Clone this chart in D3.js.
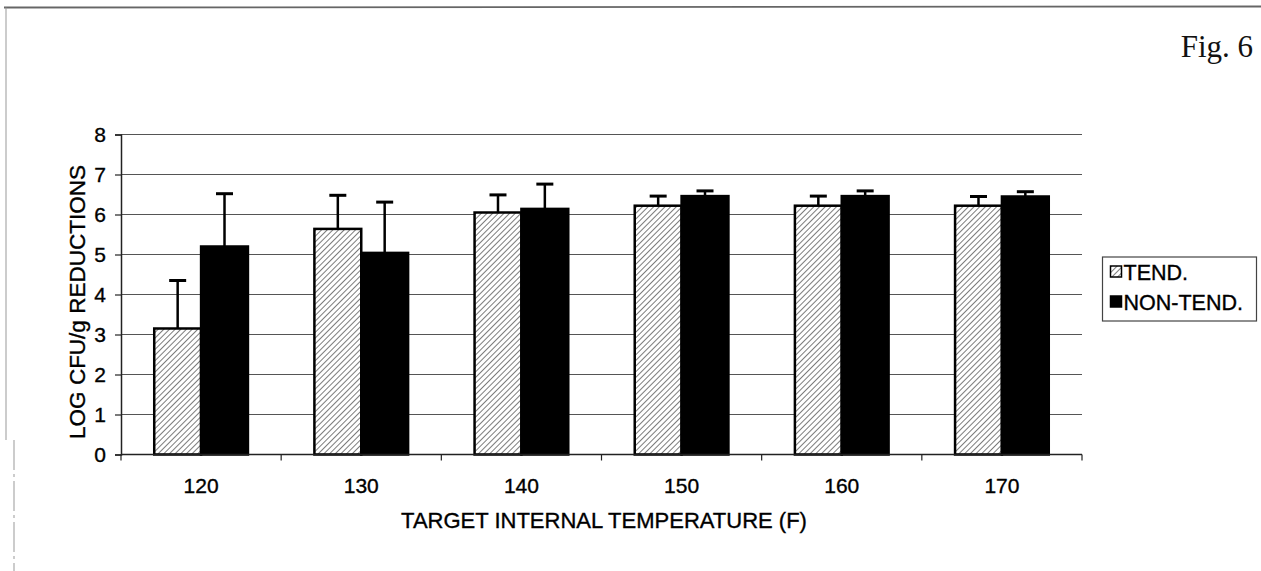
<!DOCTYPE html>
<html>
<head>
<meta charset="utf-8">
<script src="https://cdn.jsdelivr.net/npm/d3@7/dist/d3.min.js"></script>
<style>
  html, body { margin: 0; padding: 0; background: #fff; }
  svg { display: block; }
  .lbl { fill: #000; stroke: #000; stroke-width: 0.35px; }
</style>
</head>
<body>
<script>
// data
const categories = ["120", "130", "140", "150", "160", "170"];
const seriesNames = ["TEND.", "NON-TEND."];
const tendMeans = [3.15, 5.64, 6.05, 6.22, 6.22, 6.22];
const tendErrors = [1.20, 0.84, 0.44, 0.24, 0.24, 0.23];
const nonTendMeans = [5.20, 5.04, 6.14, 6.46, 6.46, 6.45];
const nonTendErrors = [1.32, 1.27, 0.62, 0.13, 0.13, 0.12];
const yTicks = [0, 1, 2, 3, 4, 5, 6, 7, 8];

const width = 1261, height = 571;
const margin = {top: 134.5, right: 179, bottom: 116.5, left: 121};

const svg = d3.select("body").append("svg")
    .attr("width", width)
    .attr("height", height)
    .attr("font-family", "'Liberation Sans', Arial, sans-serif");

// hatch pattern for the TEND. bars
const defs = svg.append("defs");
const hatch = defs.append("pattern")
    .attr("id", "hatch")
    .attr("patternUnits", "userSpaceOnUse")
    .attr("width", 4)
    .attr("height", 4)
    .attr("patternTransform", "rotate(45)");
hatch.append("rect").attr("width", 4).attr("height", 4).attr("fill", "#fff");
hatch.append("line")
    .attr("x1", 0).attr("y1", 0).attr("x2", 0).attr("y2", 4)
    .attr("stroke", "#444").attr("stroke-width", 1.4);

// scanned page frame
svg.append("line")
    .attr("x1", 4).attr("y1", 7.5).attr("x2", width).attr("y2", 6.5)
    .attr("stroke", "#666").attr("stroke-width", 1.8);
svg.append("line")
    .attr("x1", 6).attr("y1", 7.5).attr("x2", 6).attr("y2", 440)
    .attr("stroke", "#999").attr("stroke-width", 1);
svg.append("line")
    .attr("x1", 14).attr("y1", 440).attr("x2", 14).attr("y2", height)
    .attr("stroke", "#999").attr("stroke-width", 1)
    .attr("stroke-dasharray", "30,4,3,4");

svg.append("text")
    .attr("x", 1253)
    .attr("y", 57)
    .attr("text-anchor", "end")
    .attr("font-family", "'Liberation Serif', 'Times New Roman', serif")
    .attr("font-size", 31)
    .attr("fill", "#111")
    .text("Fig. 6");

const innerW = width - margin.left - margin.right;
const innerH = height - margin.top - margin.bottom;

const g = svg.append("g").attr("transform", `translate(${margin.left},${margin.top})`);

const x0 = d3.scaleBand().domain(categories).range([0, innerW]).padding(0);
const groupW = x0.bandwidth() * 0.585;
const x1 = d3.scaleBand().domain(seriesNames).range([0, groupW]).padding(0);
const y = d3.scaleLinear().domain([0, 8]).range([innerH, 0]);

// gridlines
g.append("g")
  .selectAll("line")
  .data(yTicks.filter(t => t > 0))
  .join("line")
    .attr("x1", 0).attr("x2", innerW)
    .attr("y1", d => y(d)).attr("y2", d => y(d))
    .attr("stroke", "#555").attr("stroke-width", 1);

const rows = categories.map((c, i) => ({
  cat: c,
  values: [
    {name: seriesNames[0], mean: tendMeans[i], err: tendErrors[i]},
    {name: seriesNames[1], mean: nonTendMeans[i], err: nonTendErrors[i]}
  ]
}));

const groups = g.append("g")
  .selectAll("g")
  .data(rows)
  .join("g")
    .attr("transform", d => `translate(${x0(d.cat) + (x0.bandwidth() - groupW) / 2},0)`);

// error bars (upper only), drawn behind bars
groups.selectAll(".err")
  .data(d => d.values)
  .join("g")
    .attr("class", "err")
    .each(function(d) {
      const cx = x1(d.name) + x1.bandwidth() / 2;
      const sel = d3.select(this);
      sel.append("line")
          .attr("x1", cx).attr("x2", cx)
          .attr("y1", y(d.mean)).attr("y2", y(d.mean + d.err))
          .attr("stroke", "#000").attr("stroke-width", 2.5);
      sel.append("line")
          .attr("x1", cx - 8.5).attr("x2", cx + 8.5)
          .attr("y1", y(d.mean + d.err)).attr("y2", y(d.mean + d.err))
          .attr("stroke", "#000").attr("stroke-width", 3);
    });

groups.selectAll("rect")
  .data(d => d.values)
  .join("rect")
    .attr("x", d => x1(d.name))
    .attr("width", x1.bandwidth())
    .attr("y", d => y(d.mean))
    .attr("height", d => y(0) - y(d.mean))
    .attr("fill", d => d.name === seriesNames[0] ? "url(#hatch)" : "#000")
    .attr("stroke", "#000")
    .attr("stroke-width", 2.5);

// y axis
const yAxis = g.append("g")
    .call(d3.axisLeft(y).tickValues(yTicks).tickSize(6).tickPadding(9).tickFormat(d3.format("d")));
yAxis.select(".domain").attr("stroke", "#222").attr("stroke-width", 1.5);
yAxis.selectAll(".tick line").attr("stroke", "#222").attr("stroke-width", 1.2);
yAxis.selectAll(".tick text")
    .attr("class", "lbl")
    .attr("font-size", 21)
    .attr("font-family", "'Liberation Sans', Arial, sans-serif");

// x axis with ticks between categories
const xAxisG = g.append("g").attr("transform", `translate(0,${innerH})`);
xAxisG.append("line")
    .attr("x1", 0).attr("x2", innerW)
    .attr("stroke", "#222").attr("stroke-width", 1.5);
xAxisG.selectAll(".sep")
  .data(categories.concat(["end"]))
  .join("line")
    .attr("class", "sep")
    .attr("x1", (d, i) => i * x0.step()).attr("x2", (d, i) => i * x0.step())
    .attr("y1", 0).attr("y2", 6)
    .attr("stroke", "#222").attr("stroke-width", 1.2);
xAxisG.selectAll(".xl")
  .data(categories)
  .join("text")
    .attr("class", "xl lbl")
    .attr("x", d => x0(d) + x0.bandwidth() / 2)
    .attr("y", 38)
    .attr("text-anchor", "middle")
    .attr("font-size", 21)
    .text(d => d);

svg.append("text")
    .attr("class", "lbl")
    .attr("x", 604)
    .attr("y", 527.5)
    .attr("text-anchor", "middle")
    .attr("font-size", 22)
    .text("TARGET INTERNAL TEMPERATURE (F)");

svg.append("text")
    .attr("class", "lbl")
    .attr("transform", "translate(85,302) rotate(-90)")
    .attr("text-anchor", "middle")
    .attr("font-size", 22.5)
    .text("LOG CFU/g REDUCTIONS");

// legend
const legend = svg.append("g").attr("transform", "translate(1102.5,257)");
legend.append("rect")
    .attr("width", 154).attr("height", 64)
    .attr("fill", "#fff").attr("stroke", "#444").attr("stroke-width", 1.2);
const items = legend.selectAll(".item")
  .data(seriesNames)
  .join("g")
    .attr("class", "item")
    .attr("transform", (d, i) => `translate(8,${15 + i * 30})`);
items.append("rect")
    .attr("x", 0).attr("y", -6)
    .attr("width", 11).attr("height", 11)
    .attr("fill", (d, i) => i === 0 ? "url(#hatch)" : "#000")
    .attr("stroke", "#000").attr("stroke-width", 1.5);
items.append("text")
    .attr("class", "lbl")
    .attr("x", 13)
    .attr("y", 7.5)
    .attr("font-size", 21.5)
    .text(d => d);
</script>
</body>
</html>
